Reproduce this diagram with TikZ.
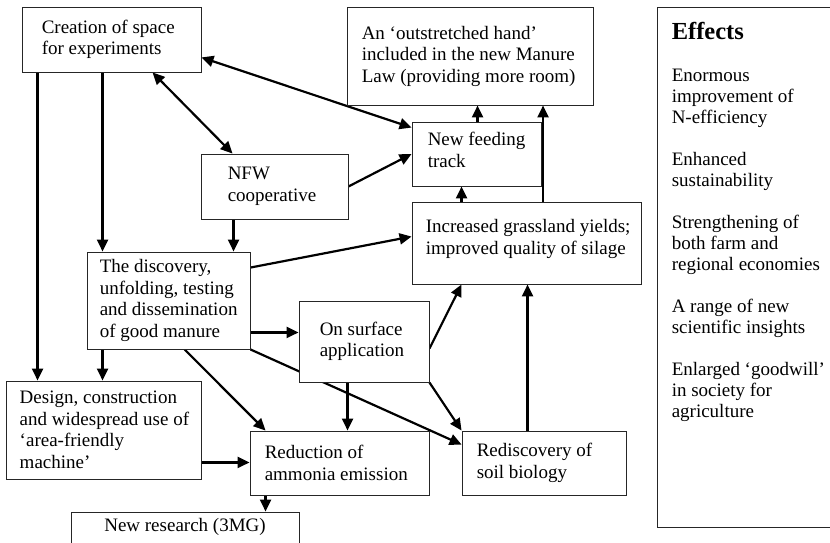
\documentclass[tikz,border=0pt]{standalone}
\usepackage{fontspec}
\setmainfont{Liberation Serif}
\usetikzlibrary{arrows.meta,calc}
\pgfdeclarelayer{back}
\pgfsetlayers{back,main}
\begin{document}
\begin{tikzpicture}[x=1pt,y=-1pt,
  box/.style={rectangle, draw=black!85, line width=0.9pt, fill=white, inner sep=0pt},
  lbl/.style={anchor=west, inner sep=0pt, align=left, font=\fontsize{19}{21.5}\selectfont},
  arr/.style={line width=2.2pt, -{Triangle[length=12pt,width=11pt]}},
  dblarr/.style={line width=2.2pt, {Triangle[length=12pt,width=11pt]}-{Triangle[length=12pt,width=11pt]}},
]
\useasboundingbox (0,0) rectangle (830,543);
\clip (0,0) rectangle (830,543);

% boxes
\node[box, minimum width=179pt, minimum height=65pt] (crea) at (111.5,39.5) {};
\node[box, minimum width=246pt, minimum height=98pt] (hand) at (470,56) {};
\node[box, minimum width=200pt, minimum height=520pt] (eff) at (757,267) {};
\node[box, minimum width=129pt, minimum height=64pt] (feed) at (476.5,154) {};
\node[box, minimum width=147pt, minimum height=65pt] (nfw) at (274.5,186.5) {};
\node[box, minimum width=229pt, minimum height=82pt] (incr) at (526.5,243) {};
\node[box, minimum width=163pt, minimum height=97pt] (disc) at (168.5,300.5) {};
\node[box, minimum width=130pt, minimum height=81pt] (surf) at (364,341.5) {};
\node[box, minimum width=195pt, minimum height=98pt] (mach) at (103.5,430) {};
\node[box, minimum width=179pt, minimum height=64pt] (redu) at (339.5,463) {};
\node[box, minimum width=164pt, minimum height=64pt] (soil) at (544,463) {};
\node[box, minimum width=228pt, minimum height=60pt] (res) at (185,542) {};

% box texts
\node[lbl] (crea-t) at ($(crea.west)+(20,0)$) {Creation of space\\for experiments};
\node[lbl] (hand-t) at ($(hand.west)+(15,0)$) {An ‘outstretched hand’\\included in the new Manure\\Law (providing more room)};
\node[lbl] (feed-t) at ($(feed.west)+(16,-4)$) {New feeding\\track};
\node[lbl] (nfw-t) at ($(nfw.west)+(27,0)$) {NFW\\cooperative};
\node[lbl] (incr-t) at ($(incr.west)+(14,-4)$) {Increased grassland yields;\\improved quality of silage};
\node[lbl] (disc-t) at ($(disc.west)+(13,0)$) {The discovery,\\unfolding, testing\\and dissemination\\of good manure};
\node[lbl] (surf-t) at ($(surf.west)+(21,0)$) {On surface\\application};
\node[lbl] (mach-t) at ($(mach.west)+(14,0)$) {Design, construction\\and widespread use of\\‘area-friendly\\machine’};
\node[lbl] (redu-t) at ($(redu.west)+(15,0)$) {Reduction of\\ammonia emission};
\node[lbl] (soil-t) at ($(soil.west)+(15,0)$) {Rediscovery of\\soil biology};
\node[lbl, anchor=base] (res-t) at ($(res.north)+(0,20)$) {New research (3MG)};

% effects column
\node[anchor=base west, inner sep=0pt, font=\fontsize{24.5}{26}\bfseries\selectfont] (eff-h) at ($(eff.north west)+(15,33)$) {Effects};
\node[anchor=north west, inner sep=0pt, align=left, font=\fontsize{19}{21}\selectfont] (eff-l) at ($(eff.north west)+(15,62.5)$)
  {Enormous\\improvement of\\N-efficiency\\[21pt]Enhanced\\sustainability\\[21pt]Strengthening of\\both farm and\\regional economies\\[21pt]A range of new\\scientific insights\\[21pt]Enlarged ‘goodwill’\\in society for\\agriculture};

% connectors
\begin{pgfonlayer}{back}
\coordinate (p1) at ($(crea.south west)+(81,0)$);
\coordinate (p2) at ($(crea.south west)+(16,0)$);
\coordinate (p3) at ($(nfw.south west)+(33,0)$);
\coordinate (p4) at ($(feed.north west)+(66,0)$);
\coordinate (p5) at ($(incr.north west)+(131.5,0)$);
\coordinate (p6) at ($(incr.north west)+(50,0)$);
\coordinate (p7) at ($(disc.south east)+(0,-17)$);
\coordinate (p8) at ($(disc.south west)+(16,0)$);
\coordinate (p9) at ($(surf.south west)+(49,0)$);
\coordinate (p10) at ($(soil.north west)+(66,0)$);
\coordinate (p11) at ($(mach.south east)+(0,-17)$);
\coordinate (p12) at ($(redu.south west)+(16,0)$);

\draw[dblarr] ($(crea.south east)+(0,-15)$) -- ($(feed.north west)+(0,6)$);
\draw[dblarr] ($(crea.south west)+(131,0)$) -- ($(nfw.north west)+(32,0)$);
\draw[arr] (nfw.east) -- (feed.west);
\draw[arr] (p1) -- (p1 |- disc.north);
\draw[arr] (p2) -- (p2 |- mach.north);
\draw[arr] (p3) -- (p3 |- disc.north);
\draw[arr] ($(disc.north east)+(0,16)$) -- ($(incr.north west)+(0,35)$);
\draw[arr] (p4) -- (p4 |- hand.south);
\draw[arr] (p5) -- (p5 |- hand.south);
\draw[arr] (p6) -- (p6 |- feed.south);
\draw[arr] (p7) -- (p7 -| surf.west);
\draw[arr] (p8) -- (p8 |- mach.north);
\draw[arr] ($(disc.south west)+(98,0)$) -- ($(redu.north west)+(16,0)$);
\draw[arr] (disc.south east) -- ($(soil.north west)+(0,14)$);
\draw[arr] (p9) -- (p9 |- redu.north);
\draw[arr] ($(surf.north east)+(0,48)$) -- ($(incr.south west)+(50,0)$);
\draw[arr] (surf.south east) -- (soil.north west);
\draw[arr] (p10) -- (p10 |- incr.south);
\draw[arr] (p11) -- (p11 -| redu.west);
\draw[arr] (p12) -- (p12 |- res.north);
\end{pgfonlayer}
\end{tikzpicture}
\end{document}
